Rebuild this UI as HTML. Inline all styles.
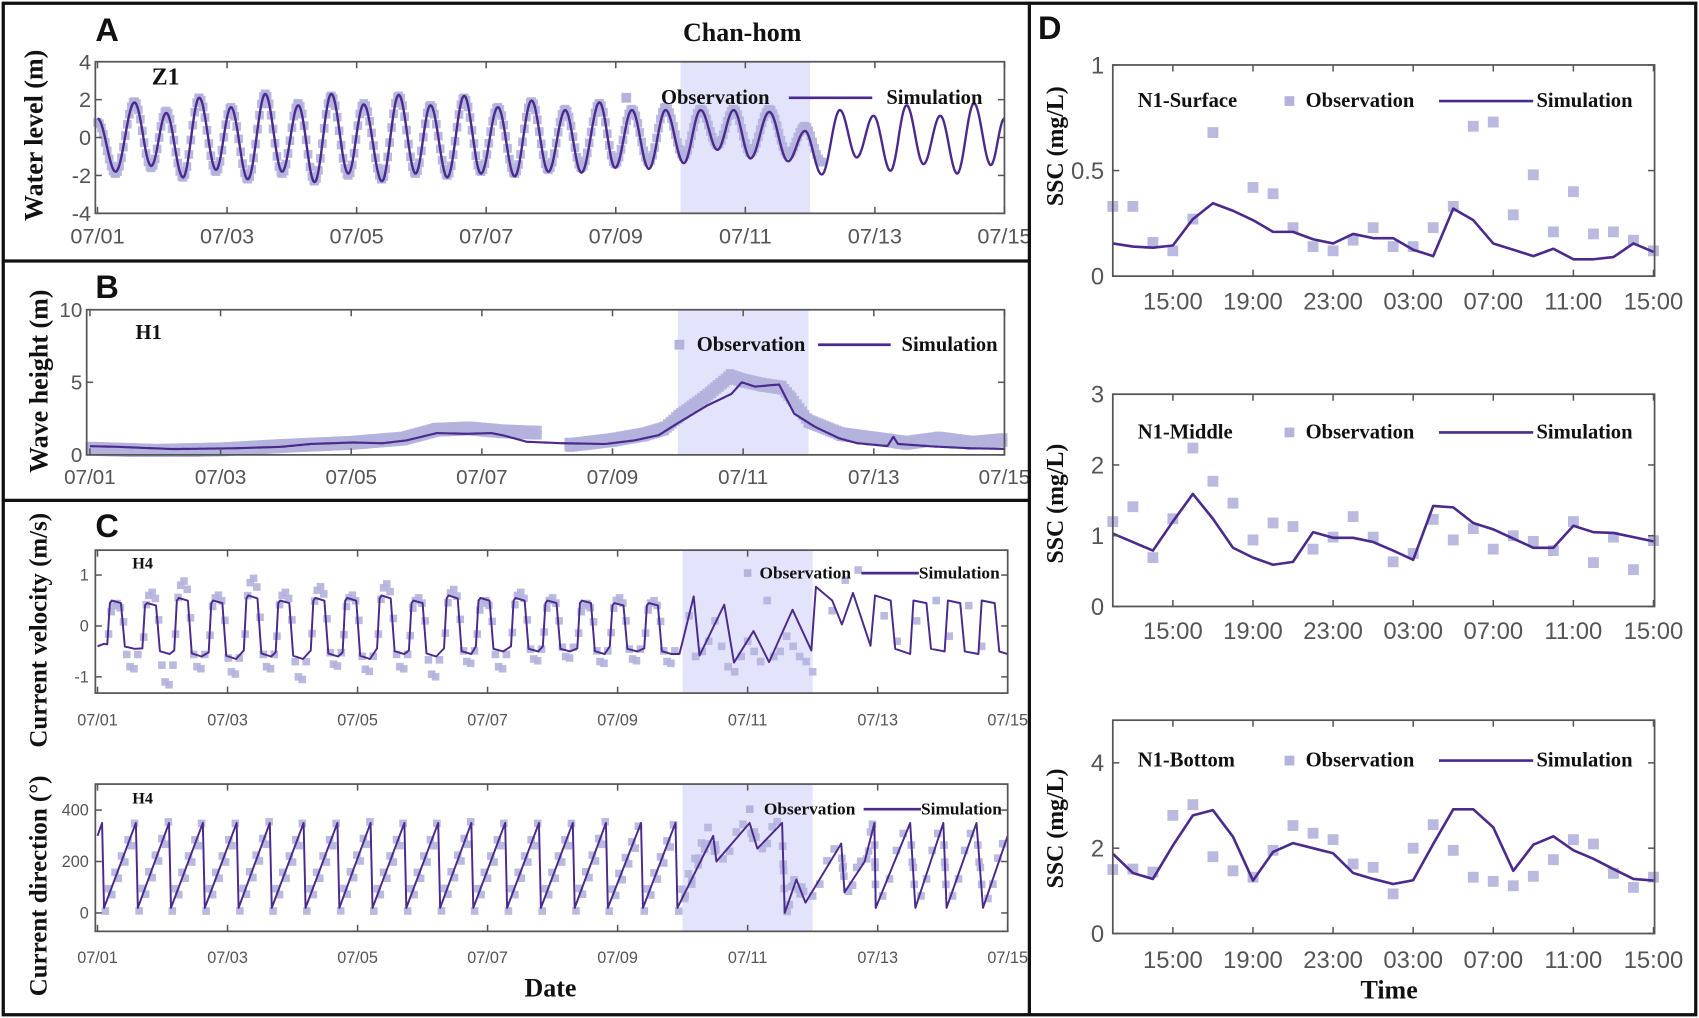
<!DOCTYPE html>
<html><head><meta charset="utf-8"><style>
html,body{margin:0;padding:0;background:#fff;}
svg{display:block;}
.tk{font-family:"Liberation Sans",Arial,sans-serif;fill:#555;}
.sf{font-family:"Liberation Serif","Times New Roman",serif;font-weight:bold;fill:#111;}
.pl{font-family:"Liberation Sans",Arial,sans-serif;font-weight:bold;fill:#111;}
</style></head><body>
<svg id="fig" width="1699" height="1018" viewBox="0 0 1568 940" preserveAspectRatio="none" xmlns="http://www.w3.org/2000/svg">
<rect x="0" y="0" width="1568" height="940" fill="#fff"/>
<g id="root"></g>
<rect x="3" y="3" width="1562" height="934" fill="none" stroke="#111" stroke-width="3"/>
<line x1="950" y1="3" x2="950" y2="937" stroke="#111" stroke-width="3"/>
<line x1="3" y1="241" x2="950" y2="241" stroke="#111" stroke-width="3"/>
<line x1="3" y1="462" x2="950" y2="462" stroke="#111" stroke-width="3"/>
<text class="pl" x="88" y="38" font-size="30">A</text>
<text class="pl" x="88" y="275" font-size="30">B</text>
<text class="pl" x="88" y="496" font-size="30">C</text>
<text class="pl" x="958" y="36" font-size="30">D</text>
<text class="sf" x="685" y="38" font-size="24" text-anchor="middle">Chan-hom</text>
<text class="sf" x="508" y="920" font-size="24" text-anchor="middle">Date</text>
<text class="sf" x="1282" y="922" font-size="24" text-anchor="middle">Time</text>
<text class="sf" transform="translate(39,125) rotate(-90)" font-size="24" text-anchor="middle">Water level (m)</text>
<text class="sf" transform="translate(44,352) rotate(-90)" font-size="24" text-anchor="middle">Wave height (m)</text>
<text class="sf" transform="translate(43,582) rotate(-90)" font-size="23" text-anchor="middle">Current velocity (m/s)</text>
<text class="sf" transform="translate(43,818) rotate(-90)" font-size="23" text-anchor="middle">Current direction (°)</text>
<text class="sf" transform="translate(981,135) rotate(-90)" font-size="22" text-anchor="middle">SSC (mg/L)</text>
<text class="sf" transform="translate(981,465) rotate(-90)" font-size="22" text-anchor="middle">SSC (mg/L)</text>
<text class="sf" transform="translate(981,765) rotate(-90)" font-size="22" text-anchor="middle">SSC (mg/L)</text>
</svg>
<script>
// ---------- DATA ----------
const wlTimes=[0,.28,.57,.83,1.06,1.32,1.57,1.83,2.06,2.32,2.59,2.85,3.10,3.35,3.61,3.87,4.11,4.39,4.65,4.91,5.14,5.40,5.66,5.92,6.18,6.44,6.70,6.96,7.22,7.47,7.75,7.99,8.25,8.51,8.77,9.05,9.31,9.57,9.82,10.08,10.37,10.66,10.92,11.18,11.46,11.72,11.98,12.24,12.49,12.75,13.01,13.27,13.53,13.79,14.0];
const wlSim=[1.0,-1.8,1.85,-1.5,1.3,-2.1,2.1,-1.7,1.6,-2.2,2.3,-1.8,1.7,-2.35,2.3,-1.9,1.75,-2.3,2.25,-1.9,1.7,-2.1,2.2,-1.9,1.6,-2.05,1.95,-1.8,1.45,-1.85,1.85,-1.6,1.45,-1.65,1.45,-1.35,1.45,-0.65,1.45,-1.1,1.35,-1.25,0.35,-1.95,1.45,-1.05,1.15,-1.75,1.7,-1.4,1.15,-1.9,1.8,-1.45,1.0];
const wlObs=[0.8,-1.9,1.9,-1.6,1.4,-2.1,2.1,-1.8,1.6,-2.2,2.3,-1.9,1.8,-2.3,2.2,-2.0,1.8,-2.2,2.2,-1.9,1.7,-2.0,2.1,-1.8,1.6,-1.9,1.9,-1.7,1.5,-1.6,1.8,-1.4,1.5,-1.3,1.6,-1.0,1.5,-0.4,1.5,-0.8,1.5,-0.9,0.6,-1.3];
const whSimT=[0,.44,1.26,2.18,2.92,3.38,4.02,4.48,4.85,5.31,5.77,6.14,6.32,6.69,7.24,7.89,8.34,8.71,8.99,9.45,9.82,9.98,10.18,10.55,10.78,11.10,11.47,11.75,12.21,12.30,12.37,12.94,13.49,14.0];
const whSimV=[.6,.55,.4,.45,.55,.75,.85,.8,1.0,1.5,1.45,1.5,1.35,.9,.8,.75,1.0,1.36,2.16,3.4,4.2,5.0,4.7,4.85,2.84,1.93,1.14,.8,.61,1.25,.75,.57,.45,.41];
const whObsT=[0,1,2,3,4,4.8,5.3,5.8,6.3,6.85,7.35,8,8.5,8.8,9,9.4,9.8,10.0,10.3,10.6,10.75,11,11.5,12,12.5,13,13.5,14];
const whObsV=[.6,.45,.55,.8,1.0,1.3,1.9,2.0,1.8,1.7,.85,1.2,1.6,2.0,2.8,4.1,5.6,5.3,5.0,4.8,4.0,2.5,1.6,1.3,1.0,1.3,1.0,1.2];
const velRise=[0.15,0.69,1.18,1.71,2.25,2.74,3.28,3.77,4.30,4.79,5.33,5.82,6.36,6.85,7.38,7.88,8.41];
const velHigh=[0.5,0.45,0.55,0.5,0.6,0.5,0.55,0.55,0.6,0.5,0.6,0.55,0.55,0.5,0.5,0.45,0.45];
const velLow=[-0.45,-0.55,-0.6,-0.65,-0.6,-0.65,-0.6,-0.65,-0.55,-0.6,-0.55,-0.5,-0.5,-0.5,-0.55,-0.5,-0.55];
const velObsHigh=[0.4,0.6,0.8,0.55,0.85,0.6,0.7,0.55,0.75,0.5,0.65,0.45,0.6,0.5,0.4,0.5,0.45];
const velObsLow=[-0.8,-1.1,-0.8,-0.9,-0.8,-1.0,-0.75,-0.85,-0.8,-0.95,-0.7,-0.8,-0.65,-0.6,-0.7,-0.65,-0.7];
const velTailT=[0,0.1,8.95,9.0,9.17,9.26,9.64,9.79,10.09,10.33,10.69,10.98,11.05,11.3,11.45,11.62,11.89,11.96,12.2,12.27,12.5,12.55,12.75,12.82,13.03,13.08,13.27,13.34,13.55,13.6,13.8,13.87,14.0];
const velTailV=[-0.4,-0.35,-0.55,-0.3,0.58,-0.58,0.42,-0.72,-0.1,-0.71,0.32,-0.48,0.77,0.5,0.03,0.65,-0.39,0.6,0.5,-0.45,-0.55,0.5,0.45,-0.45,-0.5,0.5,0.45,-0.5,-0.55,0.5,0.45,-0.5,-0.55];
const velObsTailT=[9.1,9.2,9.3,9.4,9.5,9.6,9.7,9.8,9.9,10.0,10.1,10.2,10.3,10.4,10.5,10.6,10.7,10.8,10.9,11.0,11.3,11.5,11.7,12.1,12.3,12.6,12.9,13.1,13.4,13.6];
const velObsTailV=[0.2,-0.6,-0.5,-0.3,0.1,-0.4,-0.8,-0.9,-0.6,-0.3,-0.5,-0.7,0.5,-0.6,-0.5,-0.2,-0.4,-0.6,-0.7,-0.9,0.3,0.9,1.1,0.2,-0.3,0.1,0.5,-0.2,0.4,-0.4];
const dirDrops=[0.10,0.62,1.13,1.65,2.17,2.68,3.20,3.72,4.23,4.75,5.27,5.78,6.30,6.82,7.34,7.85,8.39,8.92];
const dirTailT=[8.92,9.47,9.52,10.03,10.15,10.53,10.57,10.75,10.89,11.44,11.49,11.8,11.95,11.97,12.5,12.58,13.01,13.06,13.52,13.62,14.0];
const dirTailV=[20,300,200,350,250,350,0,130,40,270,80,200,350,20,350,20,350,20,350,20,300];
const sscTicks=["15:00","19:00","23:00","03:00","07:00","11:00","15:00"];
const surfObs=[.33,.33,.16,.12,.27,.68,null,.42,.39,.23,.14,.12,.17,.23,.14,.14,.23,.33,.71,.73,.29,.48,.21,.40,.20,.21,.17,.12];
const surfSim=[.155,.14,.135,.145,.27,.345,.31,.265,.21,.21,.175,.155,.2,.18,.18,.125,.095,.32,.265,.155,.125,.095,.13,.08,.08,.09,.155,.115];
const midObs=[1.2,1.41,.69,1.24,2.24,1.77,1.46,.94,1.18,1.13,.81,.98,1.27,.98,.63,.75,1.23,.94,1.1,.81,1.0,.92,.79,1.2,.62,.98,.52,.93];
const midSim=[1.03,.91,.79,1.2,1.59,1.24,.83,.69,.59,.63,1.05,.97,.97,.91,.79,.66,1.42,1.4,1.18,1.09,.96,.83,.83,1.14,1.05,1.04,.98,.92];
const botObs=[1.5,1.51,1.44,2.77,3.02,1.8,1.47,1.32,1.95,2.53,2.35,2.2,1.63,1.55,.93,2.0,2.55,1.95,1.32,1.22,1.12,1.34,1.73,2.2,2.1,1.41,1.08,1.32];
const botSim=[1.87,1.42,1.28,2.06,2.77,2.89,2.27,1.24,1.91,2.12,2.0,1.88,1.42,1.28,1.16,1.25,2.1,2.91,2.91,2.49,1.47,2.08,2.28,1.95,1.75,1.51,1.28,1.24];
const dateTicks=["07/01","07/03","07/05","07/07","07/09","07/11","07/13","07/15"];

// ---------- DRAWING ----------
const NS="http://www.w3.org/2000/svg";
const root=document.getElementById('root');
const LINE="#4a2a8c", OBS="#b3b3dd", SHADE="#e3e3fb";
function mk(tag,attrs,parent){const e=document.createElementNS(NS,tag);for(const k in attrs)e.setAttribute(k,attrs[k]);(parent||root).appendChild(e);return e;}
function lin(d0,d1,r0,r1){return v=>r0+(v-d0)*(r1-r0)/(d1-d0);}
function cosInterp(ts,vs,step){const pts=[];for(let i=0;i<ts.length-1;i++){for(let t=ts[i];t<ts[i+1];t+=step){const f=(t-ts[i])/(ts[i+1]-ts[i]);pts.push([t,vs[i]+(vs[i+1]-vs[i])*(1-Math.cos(Math.PI*f))/2]);}}pts.push([ts[ts.length-1],vs[vs.length-1]]);return pts;}
function linInterp(ts,vs,step){const pts=[];for(let i=0;i<ts.length-1;i++){for(let t=ts[i];t<ts[i+1];t+=step){const f=(t-ts[i])/(ts[i+1]-ts[i]);pts.push([t,vs[i]+(vs[i+1]-vs[i])*f]);}}return pts;}
function pathD(pts,sx,sy){return pts.map((p,i)=>(i?'L':'M')+sx(p[0]).toFixed(1)+' '+sy(p[1]).toFixed(1)).join('');}
function frame(g,b,name){const r=mk('rect',{x:b.x0,y:b.y0,width:b.x1-b.x0,height:b.y1-b.y0,fill:'none',stroke:'#555','stroke-width':1.6},g);}
function shade(g,sx,b,name){const r=mk('rect',{x:sx(9),y:b.y0,width:sx(11)-sx(9),height:b.y1-b.y0,fill:SHADE},g);}
function xTicksDate(g,sx,b,ly,fs,name){dateTicks.forEach((lab,i)=>{const x=sx(i*2);mk('line',{x1:x,y1:b.y1,x2:x,y2:b.y1-6,stroke:'#555','stroke-width':1.4},g);mk('line',{x1:x,y1:b.y0,x2:x,y2:b.y0+6,stroke:'#555','stroke-width':1.4},g);const t=mk('text',{x:x,y:ly,'font-size':fs,'text-anchor':'middle',class:'tk'},g);t.textContent=lab;});}
function yTicks(g,sy,b,vals,labs,lx,fs,name){vals.forEach((v,i)=>{const y=sy(v);mk('line',{x1:b.x0,y1:y,x2:b.x0+6,y2:y,stroke:'#555','stroke-width':1.4},g);mk('line',{x1:b.x1,y1:y,x2:b.x1-6,y2:y,stroke:'#555','stroke-width':1.4},g);const t=mk('text',{x:lx,y:y+fs*0.35,'font-size':fs,'text-anchor':'end',class:'tk'},g);t.textContent=labs[i];});}
function squares(g,pts,sx,sy,sz,name,b){pts.forEach(p=>{if(p[1]===null)return;const y=sy(p[1]);if(b&&(y<b.y0||y>b.y1))return;const r=mk('rect',{x:(sx(p[0])-sz/2).toFixed(1),y:(y-sz/2).toFixed(1),width:sz,height:sz,fill:OBS,opacity:0.9},g);});}
function simLine(g,pts,sx,sy,name,w){const p=mk('path',{d:pathD(pts,sx,sy),fill:'none',stroke:LINE,'stroke-width':w||2.2,'stroke-linejoin':'round'},g);}
function legend(g,x,y,fs,sq,ox,l0,l1,sxx,name){const r=mk('rect',{x:x-sq/2,y:y-sq/2-fs*0.3,width:sq,height:sq,fill:OBS},g);const t=mk('text',{x:ox,y:y,'font-size':fs,class:'sf'},g);t.textContent='Observation';const l=mk('line',{x1:l0,y1:y-fs*0.3,x2:l1,y2:y-fs*0.3,stroke:LINE,'stroke-width':2.5},g);const t2=mk('text',{x:sxx,y:y,'font-size':fs,class:'sf'},g);t2.textContent='Simulation';}
function stationLabel(g,x,y,fs,txt,name){const t=mk('text',{x:x,y:y,'font-size':fs,class:'sf'},g);t.textContent=txt;}
function group(name){const g=mk('g',{});return g;}

// Panel A
(function(){const g=group('panel-a-water-level');const b={x0:88,x1:927,y0:57,y1:197};const sx=lin(0,14,90,927),sy=lin(-4,4,197,57);
shade(g,sx,b,'panel-a');
const obsCurve=cosInterp(wlTimes.slice(0,wlObs.length),wlObs,0.03).filter(p=>p[0]<=11.35);
squares(g,obsCurve,sx,sy,8,'water-level-observation-point',b);
simLine(g,cosInterp(wlTimes,wlSim,0.01),sx,sy,'water-level-simulation-line');
frame(g,b,'panel-a');xTicksDate(g,sx,b,225,20,'panel-a');yTicks(g,sy,b,[4,2,0,-2,-4],['4','2','0','-2','-4'],84,20,'panel-a');
stationLabel(g,140,78,22,'Z1','station-label-z1');legend(g,578,96,19,9,610,728,805,818,'panel-a');})();

// Panel B
(function(){const g=group('panel-b-wave-height');const b={x0:80,x1:927,y0:286,y1:420};const sx=lin(0,14,83,927),sy=lin(0,10,420,286);
shade(g,sx,b,'panel-b');
const ob=linInterp(whObsT,whObsV,0.04).filter(p=>!(p[0]>6.87&&p[0]<7.33));
squares(g,ob,sx,sy,8,'wave-height-observation-point',b);
squares(g,ob.map(p=>[p[0],Math.max(0.15,p[1]-0.35)]),sx,sy,8,'wave-height-observation-point',b);
simLine(g,linInterp(whSimT,whSimV,0.02).concat([[14,whSimV[whSimV.length-1]]]),sx,sy,'wave-height-simulation-line',2);
frame(g,b,'panel-b');xTicksDate(g,sx,b,447,19,'panel-b');yTicks(g,sy,b,[10,5,0],['10','5','0'],76,19,'panel-b');
stationLabel(g,125,313,19,'H1','station-label-h1');legend(g,627,324,19,9,643,755,822,832,'panel-b');})();

// Panel C velocity
(function(){const g=group('panel-c-current-velocity');const b={x0:88,x1:930,y0:508,y1:640};const sx=lin(0,14,90,930),sy=v=>578-47*v;
shade(g,sx,b,'panel-c-velocity');
const obs=[];const pat=[[0.02,-0.2],[0.06,0.7],[0.1,1.0],[0.15,1.1],[0.2,0.9],[0.25,0.2],[0.3,-0.7],[0.35,-1.0],[0.41,-1.05],[0.47,-0.7]];
velRise.forEach((t,i)=>{pat.forEach(p=>{obs.push([t+p[0],p[1]>0?velObsHigh[i]*p[1]:-velObsLow[i]*p[1]]);});});
velObsTailT.forEach((t,i)=>obs.push([t,velObsTailV[i]]));
squares(g,obs,sx,sy,7,'current-velocity-observation-point',b);
const kp=[[velTailT[0],velTailV[0]],[velTailT[1],velTailV[1]]];
velRise.forEach((t,i)=>{kp.push([t,velLow[i]*0.8]);kp.push([t+0.04,velHigh[i]*0.9]);kp.push([t+0.07,velHigh[i]]);kp.push([t+0.21,velHigh[i]*0.9]);kp.push([t+0.27,velLow[i]*0.9]);kp.push([t+0.42,velLow[i]]);});
for(let i=2;i<velTailT.length;i++)kp.push([velTailT[i],velTailV[i]]);
simLine(g,kp,sx,sy,'current-velocity-simulation-line',1.8);
frame(g,b,'panel-c-velocity');xTicksDate(g,sx,b,670,15,'panel-c-velocity');yTicks(g,sy,b,[1,0,-1],['1','0','-1'],82,15,'panel-c-velocity');
stationLabel(g,122,525,15,'H4','station-label-h4-velocity');legend(g,690,534,16,7,701,795,848,848,'panel-c-velocity');})();

// Panel C direction
(function(){const g=group('panel-c-current-direction');const b={x0:88,x1:930,y0:724,y1:860};const sx=lin(0,14,90,930),sy=v=>843-0.2375*v;
shade(g,sx,b,'panel-c-direction');
const kp=[[0,300],[0.07,350]];dirDrops.forEach((t,i)=>{kp.push([t,20]);if(i<dirDrops.length-1)kp.push([dirDrops[i+1]-0.03,350]);});
for(let i=1;i<dirTailT.length;i++)kp.push([dirTailT[i],dirTailV[i]]);
const obs=[];dirDrops.forEach((t,i)=>{const n=(i<dirDrops.length-1)?dirDrops[i+1]:9.47;[0.02,0.07,0.12,0.17,0.22,0.27,0.32,0.37,0.42,0.47].forEach((f,j)=>{const tt=t+f;if(tt<n){const v=20+330*(tt-t)/(n-t);obs.push([tt,v+(j%2?30:-25)]);}});});
for(let i=0;i<dirTailT.length-1;i++){for(let f=0.2;f<1;f+=0.2){const tt=dirTailT[i]+(dirTailT[i+1]-dirTailT[i])*f;obs.push([tt,dirTailV[i]+(dirTailV[i+1]-dirTailV[i])*f+(f>0.5?25:-20)]);}}
squares(g,obs,sx,sy,7,'current-direction-observation-point',b);
simLine(g,kp,sx,sy,'current-direction-simulation-line',1.8);
frame(g,b,'panel-c-direction');xTicksDate(g,sx,b,889,15,'panel-c-direction');yTicks(g,sy,b,[400,200,0],['400','200','0'],82,15,'panel-c-direction');
stationLabel(g,122,742,15,'H4','station-label-h4-direction');legend(g,692,752,16,7,705,797,850,850,'panel-c-direction');})();

// Panel D
function sscPanel(name,title,y0,y1,ymax,yt,obsArr,simArr,legY,tickY){const g=group(name);const b={x0:1027,x1:1527,y0:y0,y1:y1};const sx=lin(0,27,1027,1526),sy=lin(0,ymax,y1,y0);
squares(g,obsArr.map((v,i)=>[i,v]),sx,sy,10,name+'-observation-point');
simLine(g,simArr.map((v,i)=>[i,v]),sx,sy,name+'-simulation-line',2.4);
frame(g,b,name);
sscTicks.forEach((lab,i)=>{const x=sx(3+i*4);mk('line',{x1:x,y1:y1,x2:x,y2:y1-6,stroke:'#555','stroke-width':1.4},g);mk('line',{x1:x,y1:y0,x2:x,y2:y0+6,stroke:'#555','stroke-width':1.4},g);const t=mk('text',{x:x,y:tickY,'font-size':22,'text-anchor':'middle',class:'tk'},g);t.textContent=lab;});
yTicks(g,sy,b,yt,yt.map(String),1019,22,name);
stationLabel(g,1050,legY,19,title,name+'-station-label');legend(g,1190,legY,19,9,1205,1328,1415,1418,name);}
sscPanel('ssc-surface','N1-Surface',60,255,1,[1,0.5,0],surfObs,surfSim,99,286);
sscPanel('ssc-middle','N1-Middle',364,560,3,[3,2,1,0],midObs,midSim,405,590);
sscPanel('ssc-bottom','N1-Bottom',665,862,5,[4,2,0],botObs,botSim,708,894);
</script>
</body></html>
